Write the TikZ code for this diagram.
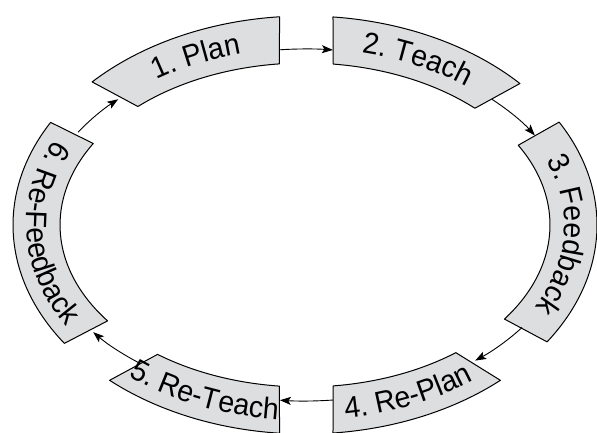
\documentclass[tikz,border=0pt]{standalone}
\usepackage{fontspec}
\newfontfamily\boxfont[FakeStretch=0.95]{Liberation Sans}
\newcommand{\cyclefont}{\boxfont\fontsize{30bp}{30bp}\selectfont}
\usetikzlibrary{arrows.meta,decorations.text}
\definecolor{boxgray}{RGB}{221,222,224}
\tikzset{
  stage/.style={fill=boxgray, draw=black, line width=1bp, line join=round},
  flow/.style={-{Stealth[length=11bp,width=8bp,inset=2.5bp]}, line width=0.9bp},
  outtext/.style={decorate, decoration={text along path, text align=center,
      text={|\cyclefont|#1}}},
}
% outer ring 292 x 209, inner ring 245 x 162, arrow ring 267 x 176
\newcommand{\stagebox}[4]{%
  \path[stage] (#1:292bp and 209bp)
    arc[start angle=#1, end angle=#2, x radius=292bp, y radius=209bp]
    -- (#3:245bp and 162bp)
    arc[start angle=#3, end angle=#4, x radius=245bp, y radius=162bp]
    -- cycle;}
\begin{document}
\begin{tikzpicture}[x=1bp,y=1bp]
\useasboundingbox (0,0) rectangle (597,433);
\begin{scope}[shift={(305,208)}]
  % the six stages
  \stagebox{95}{136.8}{133}{96}
  \stagebox{84.5}{42.6}{46.1}{83.4}
  \stagebox{29.5}{-34}{-35.5}{29.5}
  \stagebox{-84.5}{-48}{-52}{-83.4}
  \stagebox{-95}{-132}{-127}{-96}
  \stagebox{150.6}{214.5}{216.3}{149.8}

  % labels set along the ring (clockwise on top, counter-clockwise below)
  \path[outtext={1. Plan}] (134:259.5bp and 176.5bp)
    arc[start angle=134, end angle=96, x radius=259.5bp, y radius=176.5bp];
  \path[outtext={2. Teach}] (84:259.5bp and 176.5bp)
    arc[start angle=84, end angle=44, x radius=259.5bp, y radius=176.5bp];
  \path[outtext={3. Feedback}] (29:259.5bp and 176.5bp)
    arc[start angle=29, end angle=-35, x radius=259.5bp, y radius=176.5bp];
  \path[outtext={4. Re-Plan}] (-84:278.5bp and 195.5bp)
    arc[start angle=-84, end angle=-50, x radius=278.5bp, y radius=195.5bp];
  \path[outtext={5. Re-Teach}] (-130:278.5bp and 195.5bp)
    arc[start angle=-130, end angle=-95, x radius=278.5bp, y radius=195.5bp];
  \path[outtext={6. Re-Feedback}] (150:278.5bp and 195.5bp)
    arc[start angle=150, end angle=215, x radius=278.5bp, y radius=195.5bp];

  % arrow ends on the connecting ring
  \coordinate (s12) at (95.4:267bp and 176bp);
  \coordinate (s23) at (45.6:267bp and 176bp);
  \coordinate (s34) at (-35.6:267bp and 176bp);
  \coordinate (s45) at (-84:267bp and 176bp);
  \coordinate (s56) at (-128.2:267bp and 176bp);
  \coordinate (s61) at (148.2:267bp and 176bp);

  \draw[flow] (s12) arc[start angle=95.4, end angle=84, x radius=267bp, y radius=176bp];
  \draw[flow] (s23) arc[start angle=45.6, end angle=30.6, x radius=267bp, y radius=176bp];
  \draw[flow] (s34) arc[start angle=-35.6, end angle=-50.4, x radius=267bp, y radius=176bp];
  \draw[flow] (s45) arc[start angle=-84, end angle=-95.4, x radius=267bp, y radius=176bp];
  \draw[flow] (s56) arc[start angle=-128.2, end angle=-142.5, x radius=267bp, y radius=176bp];
  \draw[flow] (s61) arc[start angle=148.2, end angle=134.4, x radius=267bp, y radius=176bp];
\end{scope}
\end{tikzpicture}
\end{document}
